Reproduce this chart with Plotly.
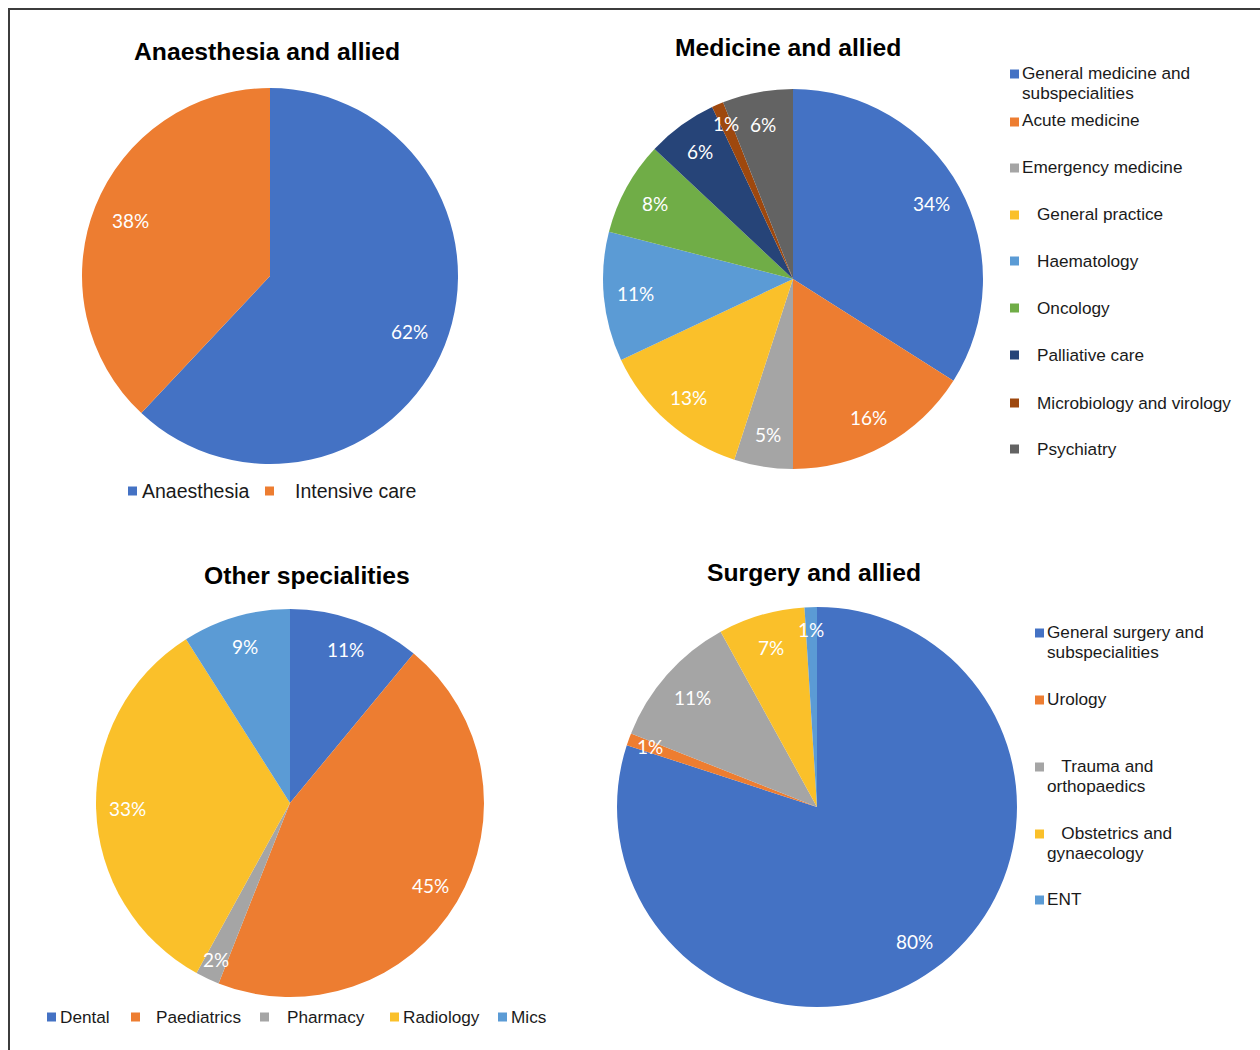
import math
import plotly.graph_objects as go

W, H = 1260, 1050

# ---- data -------------------------------------------------------------
anaes_labels = ["Anaesthesia", "Intensive care"]
anaes_values = [62, 38]

med_labels = ["General medicine and<br>subspecialities", "Acute medicine",
              "Emergency medicine", "General practice", "Haematology",
              "Oncology", "Palliative care", "Microbiology and virology",
              "Psychiatry"]
med_values = [34, 16, 5, 13, 11, 8, 6, 1, 6]

other_labels = ["Dental", "Paediatrics", "Pharmacy", "Radiology", "Mics"]
other_values = [11, 45, 2, 33, 9]

surg_labels = ["General surgery and<br>subspecialities", "Urology",
               "\u00a0\u00a0\u00a0Trauma and<br>orthopaedics",
               "\u00a0\u00a0\u00a0Obstetrics and<br>gynaecology", "ENT"]
surg_values = [80, 1, 11, 7, 1]

# ---- colours (Office palette) -----------------------------------------
BLUE, ORANGE, GREY, GOLD = "#4472C4", "#ED7D31", "#A5A5A5", "#FAC02A"
LBLUE, GREEN, NAVY, RUST, DGREY = "#5B9BD5", "#70AD47", "#264478", "#9E480E", "#636363"

anaes_colors = [BLUE, ORANGE]
med_colors = [BLUE, ORANGE, GREY, GOLD, LBLUE, GREEN, NAVY, RUST, DGREY]
other_colors = [BLUE, ORANGE, GREY, GOLD, LBLUE]
surg_colors = [BLUE, ORANGE, GREY, GOLD, LBLUE]

TITLE_FONT = dict(family="Liberation Sans", size=24.7, color="#000000")
PCT_FONT = dict(family="Lato", size=19, color="#ffffff")

# panel geometry in pixels: centre x, centre y, radius, label radius factor,
# legend font size
panels = [
    dict(title="Anaesthesia and allied", tx=267, ty=51, cx=270, cy=276, r=188, k=0.80,
         leg_size=19.5, labels=anaes_labels, values=anaes_values, colors=anaes_colors),
    dict(title="Medicine and allied", tx=788, ty=47, cx=793, cy=279, r=190, k=0.83,
         leg_size=17.2, labels=med_labels, values=med_values, colors=med_colors),
    dict(title="Other specialities", tx=307, ty=575, cx=290, cy=803, r=194, k=0.84,
         leg_size=17.2, labels=other_labels, values=other_values, colors=other_colors),
    dict(title="Surgery and allied", tx=814, ty=572, cx=817, cy=807, r=200, k=0.83,
         leg_size=17.2, labels=surg_labels, values=surg_values, colors=surg_colors),
]

# legend item anchors: (square x-left, square y-centre, text x, text y-centre)
legend_pos = [
    [(128, 491, 142, 491), (265, 491, 295, 491)],
    [(1010, 74, 1022, 73), (1010, 122, 1022, 120), (1010, 168, 1022, 167),
     (1010, 215, 1037, 214), (1010, 261, 1037, 261), (1010, 308, 1037, 308),
     (1010, 355, 1037, 355), (1010, 403, 1037, 403), (1010, 449, 1037, 449)],
    [(47, 1017, 60, 1017), (131, 1017, 156, 1017), (260, 1017, 287, 1017),
     (390, 1017, 403, 1017), (498, 1017, 511, 1017)],
    [(1035, 633, 1047, 632), (1035, 700, 1047, 699), (1035, 767, 1047, 766),
     (1035, 834, 1047, 833), (1035, 900, 1047, 899)],
]
SQ = 9
LINE_GAP = 20
TEXT_PAD = 2  # annotation box padding on the left


def px(x):
    return x / W


def py(y):
    return 1 - y / H


fig = go.Figure()
annotations = []
shapes = []

for p, lpos in zip(panels, legend_pos):
    cx, cy, r = p["cx"], p["cy"], p["r"]
    names = [lab.replace("<br>", " ").replace("\u00a0", "").strip() for lab in p["labels"]]
    fig.add_trace(go.Pie(
        labels=names, values=p["values"], sort=False, direction="clockwise",
        rotation=0, textinfo="none", hoverinfo="label+percent",
        marker=dict(colors=p["colors"], line=dict(width=0)),
        domain=dict(x=[px(cx - r), px(cx + r)], y=[py(cy + r), py(cy - r)]),
        showlegend=False,
    ))

    # percentage labels at the middle angle of each slice
    total = sum(p["values"])
    cum = 0
    for v in p["values"]:
        frac = v / total
        mid = (cum + frac / 2) * 2 * math.pi
        cum += frac
        k = p["k"] if frac >= 0.03 else 0.89
        d = r * k
        annotations.append(dict(
            x=px(cx + d * math.sin(mid)), y=py(cy - d * math.cos(mid)),
            xref="paper", yref="paper", text=f"{round(frac * 100)}%",
            showarrow=False, xanchor="center", yanchor="middle", font=PCT_FONT))

    # title
    annotations.append(dict(
        x=px(p["tx"]), y=py(p["ty"]), xref="paper", yref="paper",
        text=f"<b>{p['title']}</b>", showarrow=False,
        xanchor="center", yanchor="middle", font=TITLE_FONT))

    # legend: coloured squares and item text
    leg_font = dict(family="Liberation Sans", size=p["leg_size"], color="#1a1a1a")
    for lab, col, (sx, sy, tx, ty) in zip(p["labels"], p["colors"], lpos):
        shapes.append(dict(
            type="rect", xref="paper", yref="paper",
            x0=px(sx), x1=px(sx + SQ), y0=py(sy + SQ / 2), y1=py(sy - SQ / 2),
            fillcolor=col, line=dict(width=0)))
        for i, line in enumerate(lab.split("<br>")):
            annotations.append(dict(
                x=px(tx - TEXT_PAD), y=py(ty + i * LINE_GAP), xref="paper", yref="paper",
                text=line, showarrow=False, xanchor="left", yanchor="middle",
                font=leg_font))

# outer frame
shapes.append(dict(
    type="rect", xref="paper", yref="paper",
    x0=px(9), x1=px(W + 20), y0=py(H + 20), y1=py(9),
    line=dict(color="#3c3c3c", width=2), fillcolor="rgba(0,0,0,0)"))

fig.update_layout(
    width=W, height=H,
    margin=dict(l=0, r=0, t=0, b=0),
    paper_bgcolor="#ffffff", plot_bgcolor="#ffffff",
    annotations=annotations, shapes=shapes, showlegend=False,
)

fig.write_html("out.html")
